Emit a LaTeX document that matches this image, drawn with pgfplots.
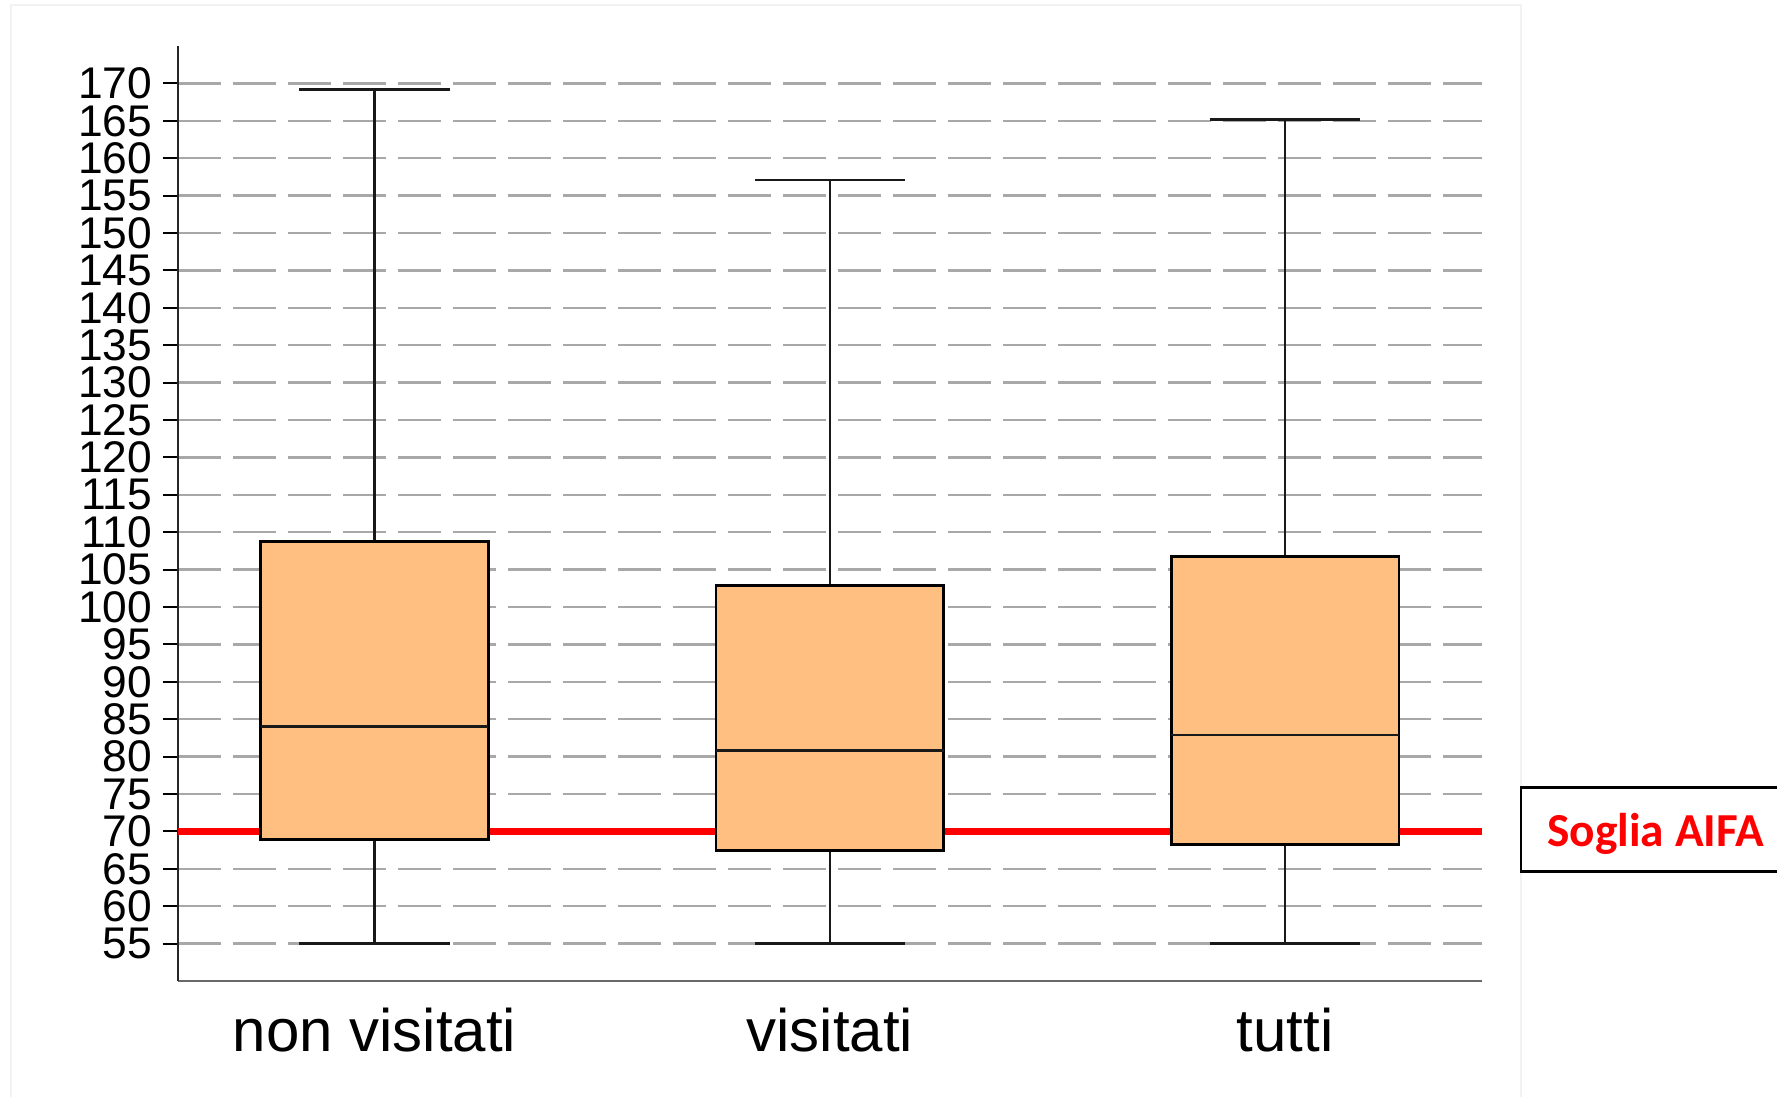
\documentclass[border=0pt]{standalone}
\usepackage{pgfplots}
\pgfplotsset{compat=1.18}
\usepackage{fontspec}
\setmainfont{Liberation Sans}
\newfontfamily\calibri{Carlito}
\definecolor{boxfill}{RGB}{254,191,128}
\definecolor{gridgray}{RGB}{168,168,168}
\definecolor{axgray}{RGB}{105,105,105}
\definecolor{aifared}{RGB}{255,0,0}
\pgfplotsset{
  bx/.style={draw=black, fill=boxfill, line width=0.85pt, forget plot},
  wk/.style={black!90, line width=0.75pt, forget plot},
}
\begin{document}
\begin{tikzpicture}
\path[use as bounding box] (0,0) rectangle (533.1pt,329.1pt);
\draw[black!5, line width=0.6pt] (3.3pt,-5pt) -- (3.3pt,327.6pt) -- (456.3pt,327.6pt) -- (456.3pt,-5pt);
\begin{axis}[
  at={(53.37pt,34.8pt)}, anchor=south west,
  scale only axis, width=391.2pt, height=280.5pt,
  xmin=0.568, xmax=3.432, ymin=50, ymax=175,
  axis x line*=bottom, axis y line*=left,
  x axis line style={-, axgray, line width=0.75pt},
  y axis line style={-, black!85, line width=0.65pt},
  xtick={1,2,3}, xticklabels={non visitati, visitati, tutti},
  ytick={55,60,...,170},
  tick align=outside, major tick length=4.5pt,
  xtick style={draw=none},
  ytick style={black, line width=0.55pt},
  ymajorgrids,
  grid style={gridgray, line width=0.7pt, dash pattern=on 12.9pt off 3.6pt},
  /pgf/number format/assume math mode=true,
  yticklabel style={font=\fontsize{13.3}{13.3}\selectfont, inner sep=0pt, xshift=-3pt},
  xticklabel style={font=\fontsize{18}{18}\selectfont},
]
% AIFA threshold
\addplot[aifared, line width=2.1pt, forget plot] coordinates {(0.568,70) (3.432,70)};
% non visitati
\addplot[wk] coordinates {(1,108.8) (1,169.2)};
\addplot[wk] coordinates {(0.835,169.2) (1.165,169.2)};
\addplot[wk] coordinates {(1,55) (1,68.9)};
\addplot[wk] coordinates {(0.835,55) (1.165,55)};
\addplot[bx] coordinates {(0.75,68.9) (1.25,68.9) (1.25,108.8) (0.75,108.8)} -- cycle;
\addplot[wk] coordinates {(0.75,84) (1.25,84)};
% visitati
\addplot[wk] coordinates {(2,102.9) (2,157.1)};
\addplot[wk] coordinates {(1.835,157.1) (2.165,157.1)};
\addplot[wk] coordinates {(2,55) (2,67.4)};
\addplot[wk] coordinates {(1.835,55) (2.165,55)};
\addplot[bx] coordinates {(1.75,67.4) (2.25,67.4) (2.25,102.9) (1.75,102.9)} -- cycle;
\addplot[wk] coordinates {(1.75,80.8) (2.25,80.8)};
% tutti
\addplot[wk] coordinates {(3,106.7) (3,165.2)};
\addplot[wk] coordinates {(2.835,165.2) (3.165,165.2)};
\addplot[wk] coordinates {(3,55) (3,68.2)};
\addplot[wk] coordinates {(2.835,55) (3.165,55)};
\addplot[bx] coordinates {(2.75,68.2) (3.25,68.2) (3.25,106.7) (2.75,106.7)} -- cycle;
\addplot[wk] coordinates {(2.75,82.9) (3.25,82.9)};
\end{axis}
\draw[black, line width=0.7pt, fill=white] (456.3pt,92.8pt) rectangle (545pt,67.6pt);
\node[anchor=base west, inner sep=0pt, text=aifared, font=\calibri\bfseries\fontsize{14.2}{14.2}\selectfont] at (464pt,75.2pt) {Soglia AIFA};
\end{tikzpicture}
\end{document}
